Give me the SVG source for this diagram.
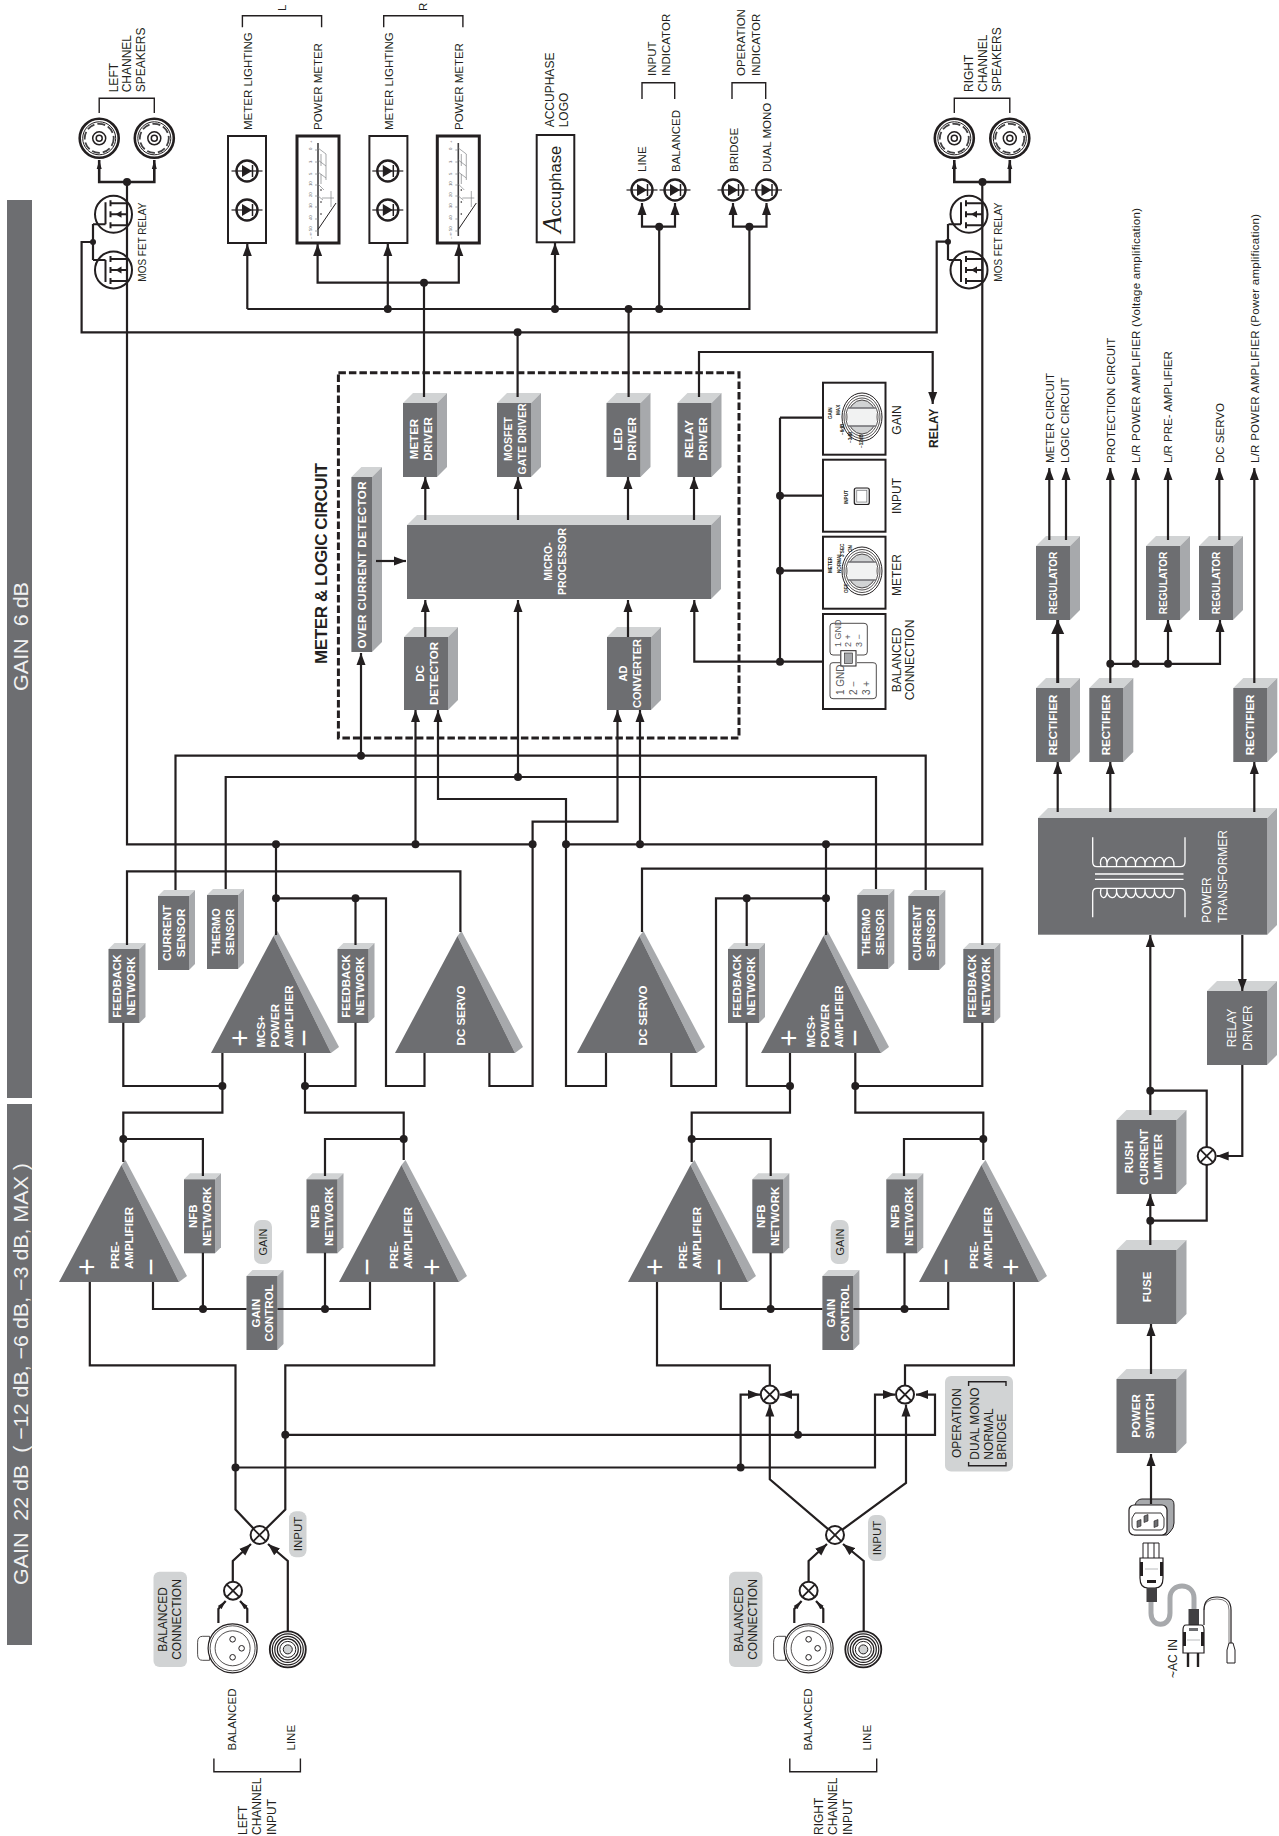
<svg xmlns="http://www.w3.org/2000/svg" xmlns:xlink="http://www.w3.org/1999/xlink" width="1279" height="1836" viewBox="0 0 1279 1836">
<style>
text{font-family:"Liberation Sans",Arial,sans-serif;fill:#231f20;font-size:11.5px}
.w{fill:#fff;font-weight:bold;text-anchor:middle}
.ws{fill:#fff;font-weight:bold}
.m{text-anchor:middle}
.big{fill:#f1f2f2;font-size:21px}
.pm{fill:#fff;font-size:30px;font-weight:normal;text-anchor:middle}
.ti{font-size:4.6px;font-weight:bold;stroke:none}
.ts{font-size:9px;fill:#58595b}
.tp{font-size:4.2px;fill:#58595b}
.d{fill:#6d6e71}.t{fill:#d1d3d4}.s{fill:#a7a9ac}
.c{fill:none;stroke:#231f20;stroke-width:2.2}
.cb{fill:none;stroke:#231f20;stroke-width:2.6}
.a{marker-end:url(#ar)}
.as{marker-end:url(#as)}
.al{marker-end:url(#al)}
.br{fill:none;stroke:#231f20;stroke-width:1.4}
.dot{fill:#231f20}
.pill{fill:#d1d3d4}
.panel{fill:#fff;stroke:#231f20;stroke-width:2}
.x{fill:#fff;stroke:#231f20;stroke-width:2}
.th{fill:none;stroke:#231f20;stroke-width:.8}
.wl{fill:none;stroke:#fff;stroke-width:1.3}
</style>
<defs>
<marker id="ar" markerUnits="userSpaceOnUse" markerWidth="13" markerHeight="10" refX="12" refY="5" orient="auto"><path d="M0 .5L12 5L0 9.5Z" fill="#231f20"/></marker>
<marker id="as" markerUnits="userSpaceOnUse" markerWidth="10" markerHeight="7" refX="9" refY="3.5" orient="auto"><path d="M0 1L9 3.5L0 6Z" fill="#231f20"/></marker>
<marker id="al" markerUnits="userSpaceOnUse" markerWidth="15" markerHeight="14" refX="14" refY="7" orient="auto"><path d="M0 .5L14 7L0 13.5Z" fill="#231f20"/></marker>
<g id="b34"><path class="t" d="M0 0L10-10H44L34 0Z"/><path class="s" d="M34 0L44-10V64L34 74Z"/><rect class="d" width="34" height="74"/></g>
<g id="b44"><path class="t" d="M0 0L10-10H54L44 0Z"/><path class="s" d="M44 0L54-10V63L44 73Z"/><rect class="d" width="44" height="73"/></g>
<g id="b31"><path class="t" d="M0 0L6-6H37L31 0Z"/><path class="s" d="M31 0L37-6V68L31 74Z"/><rect class="d" width="31" height="74"/></g>
<g id="b60"><path class="t" d="M0 0L10-10H70L60 0Z"/><path class="s" d="M60 0L70-10V64L60 74Z"/><rect class="d" width="60" height="74"/></g>
<g id="tri"><path class="s" d="M62.5-117L66.5-122L128-6L120 0Z"/><path class="d" d="M0 0H120L62.5-117Z"/></g>
<g id="spk"><circle r="19.5" fill="#fff" stroke="#231f20" stroke-width="2.6"/><circle r="16.5" fill="none" stroke="#231f20" stroke-width="1"/><circle r="14.5" fill="none" stroke="#414042" stroke-width="1.8" stroke-dasharray="8 3"/><circle r="6.5" fill="none" stroke="#231f20" stroke-width="1.5"/><circle r="3" fill="none" stroke="#231f20" stroke-width="1.5"/></g>
<g id="led"><circle r="10.5" fill="#fff" stroke="#231f20" stroke-width="2.4"/><path d="M-15.5 0H15.5" stroke="#231f20" stroke-width="1.2"/><path d="M-5-6L5 0L-5 6Z" fill="#231f20"/><path d="M5.5-6V6" stroke="#231f20" stroke-width="1.5"/></g>
<g id="fet"><circle r="18.5" fill="#fff" stroke="#231f20" stroke-width="2"/><path d="M-20.5 10H-8M-8-12V10" fill="none" stroke="#231f20" stroke-width="2"/><path d="M-3-14V-8M-3-3V3M-3 8V14M-3-11H13.5M-3 11H13.5M-3 0H13.5M13.5-11V11" fill="none" stroke="#231f20" stroke-width="2"/><path d="M2 0L8-3.5V3.5Z" fill="#231f20"/></g>
<g id="xc"><circle r="9" class="x"/><path d="M-6.4-6.4L6.4 6.4M-6.4 6.4L6.4-6.4" stroke="#231f20" stroke-width="1.8"/></g>
<g id="xlr"><path d="M-23-12H-30Q-35-12-35 -6V6Q-35 12-30 12H-23Z" fill="#fff" stroke="#231f20" stroke-width=".8"/><circle r="24.5" fill="#fff" stroke="#231f20" stroke-width="1.2"/><circle r="22.5" fill="none" stroke="#231f20" stroke-width=".8"/><circle r="17.5" fill="none" stroke="#231f20" stroke-width=".8"/><circle cy="-9" r="2.8" fill="#fff" stroke="#231f20"/><circle cx="9" r="2.8" fill="#fff" stroke="#231f20"/><circle cy="9" r="2.8" fill="#fff" stroke="#231f20"/></g>
<g id="rca"><circle r="18" fill="#fff" stroke="#231f20" stroke-width="1.8"/><circle r="15.500" fill="none" stroke="#231f20" stroke-width="1.2"/><circle r="13" fill="none" stroke="#231f20" stroke-width="1.2"/><circle r="10.500" fill="none" stroke="#231f20" stroke-width="1.2"/><circle r="8" fill="none" stroke="#231f20" stroke-width="1"/><circle r="4.5" fill="#d1d3d4" stroke="#231f20"/></g>
<g id="meter"><rect x="-21" y="-54" width="42" height="107" class="panel" style="stroke-width:3"/><path d="M0-47V46" stroke="#414042" stroke-width="1.6"/><path d="M0 39.500L18 13" stroke="#231f20" stroke-width="1"/><path d="M-3-40H0M-3-28H0M-3-16H0M-3-5H0M-3 6H0M-3 17H0M-3 29H0M-3 41H0M0-42L8-36M0-30L8-24M0-18L8-12M0-6L6 0M0 6L5 10M3-36V-24M3-16V-6M8-36V-10M13 1V17M16 8H4" fill="none" stroke="#808285" stroke-width=".7"/><circle cx="3" cy="0" r=".8" fill="#231f20"/><circle cx="3" cy="12" r=".8" fill="#231f20"/><circle cx="3" cy="24" r=".8" fill="#231f20"/><text class="tp" transform="matrix(0 -1 1 0 -6 49)">– ∞</text><text class="tp" transform="matrix(0 -1 1 0 -6 41)">50</text><text class="tp" transform="matrix(0 -1 1 0 -6 30)">40</text><text class="tp" transform="matrix(0 -1 1 0 -6 18)">30</text><text class="tp" transform="matrix(0 -1 1 0 -6 7)">20</text><text class="tp" transform="matrix(0 -1 1 0 -6 -4)">10</text><text class="tp" transform="matrix(0 -1 1 0 -6 -15)">5</text><text class="tp" transform="matrix(0 -1 1 0 -6 -27)">3</text><text class="tp" transform="matrix(0 -1 1 0 -6 -40)">0</text><text class="tp" transform="matrix(0 -1 1 0 -6 -47)">+</text></g>
<g id="knob"><ellipse rx="20" ry="24" fill="#fff" stroke="#231f20"/><ellipse rx="18" ry="21.500" class="th"/><ellipse rx="16" ry="19" class="th"/><ellipse rx="14" ry="17" fill="#d1d3d4" stroke="#231f20" stroke-width=".8"/><rect x="-14" y="-9" width="28" height="18" fill="#f1f2f2"/><path d="M-14-9H14M-14 9H14" stroke="#6d6e71" stroke-width="1.5"/></g>
</defs>

<g id="gain-bars">
<rect class="d" x="7" y="200" width="25" height="898"/>
<rect class="d" x="7" y="1104" width="25" height="541"/>
<text class="big" transform="matrix(0 -1 1 0 27.700 691)" textLength="109" lengthAdjust="spacingAndGlyphs" xml:space="preserve">GAIN  6 dB</text>
<text class="big" transform="matrix(0 -1 1 0 27.700 1585)" textLength="422" lengthAdjust="spacingAndGlyphs" xml:space="preserve">GAIN  22 dB  ( −12 dB, −6 dB, −3 dB, MAX )</text>
</g>

<g id="meter-logic-frame">
<rect x="338.400" y="372.700" width="400.600" height="365.300" fill="none" stroke="#231f20" stroke-width="3" stroke-dasharray="7.500 3"/>
<text transform="matrix(0 -1 1 0 326.500 664)" style="font-size:17px;font-weight:bold" textLength="201">METER &amp; LOGIC CIRCUIT</text>
</g>

<g id="left-speakers">
<use xlink:href="#spk" href="#spk" x="99.200" y="138.300"/><use href="#spk" xlink:href="#spk" x="154.300" y="138.300"/>
<path class="br" d="M99.200 113V98.300H154.300V113"/>
<text transform="matrix(0 -1 1 0 117.500 92.300)" style="font-size:12px"><tspan x="0">LEFT</tspan><tspan x="0" dy="13.900">CHANNEL</tspan><tspan x="0" dy="13.900">SPEAKERS</tspan></text>
</g>
<g id="right-speakers">
<use href="#spk" xlink:href="#spk" x="954.300" y="138.300"/><use href="#spk" xlink:href="#spk" x="1009.800" y="138.300"/>
<path class="br" d="M954.300 113V98.300H1009.800V113"/>
<text transform="matrix(0 -1 1 0 973 92)" style="font-size:12px"><tspan x="0">RIGHT</tspan><tspan x="0" dy="13.900">CHANNEL</tspan><tspan x="0" dy="13.900">SPEAKERS</tspan></text>
</g>
<g id="left-mosfet">
<use href="#fet" xlink:href="#fet" x="113.500" y="214.300"/><use href="#fet" xlink:href="#fet" transform="translate(113.500 270) scale(1 -1)"/>
<text transform="matrix(0 -1 1 0 146 281.700)" style="font-size:10px">MOS FET RELAY</text>
</g>
<g id="right-mosfet">
<use href="#fet" xlink:href="#fet" x="969" y="214.300"/><use href="#fet" xlink:href="#fet" transform="translate(969 270) scale(1 -1)"/>
<text transform="matrix(0 -1 1 0 1002 281.700)" style="font-size:10px">MOS FET RELAY</text>
</g>

<g id="meter-lighting-l"><rect class="panel" x="228" y="136" width="38" height="107"/><use href="#led" xlink:href="#led" x="247" y="171"/><use href="#led" xlink:href="#led" x="247" y="210"/></g>
<g id="power-meter-l"><use href="#meter" xlink:href="#meter" x="318" y="190"/></g>
<g id="meter-lighting-r"><rect class="panel" x="369.400" y="136" width="38" height="107"/><use href="#led" xlink:href="#led" x="387.800" y="171"/><use href="#led" xlink:href="#led" x="387.800" y="210"/></g>
<g id="power-meter-r"><use href="#meter" xlink:href="#meter" x="458.300" y="190"/></g>
<g id="meter-labels">
<path class="br" d="M242.400 27.300V15.700H321.600V27.300"/>
<path class="br" d="M383.700 27.300V15.700H462.900V27.300"/>
<text transform="matrix(0 -1 1 0 285.700 11)">L</text>
<text transform="matrix(0 -1 1 0 426.500 11)">R</text>
<text transform="matrix(0 -1 1 0 252.200 130)">METER LIGHTING</text>
<text transform="matrix(0 -1 1 0 322.400 130)">POWER METER</text>
<text transform="matrix(0 -1 1 0 392.600 130)">METER LIGHTING</text>
<text transform="matrix(0 -1 1 0 463.300 130)">POWER METER</text>
</g>
<g id="accuphase-logo">
<rect class="panel" x="536.700" y="135" width="37.600" height="107.300"/>
<text transform="matrix(0 -1 1 0 561 233)" style="font-size:16.500px"><tspan style="font-family:'Liberation Serif',serif;font-style:italic;font-size:27px">A</tspan><tspan>ccuphase</tspan></text>
<text transform="matrix(0 -1 1 0 553.900 127.300)" style="font-size:12px"><tspan x="0">ACCUPHASE</tspan><tspan x="0" dy="14">LOGO</tspan></text>
</g>
<g id="indicators">
<use href="#led" xlink:href="#led" x="642" y="190"/><use href="#led" xlink:href="#led" x="675" y="190"/><use href="#led" xlink:href="#led" x="733" y="190"/><use href="#led" xlink:href="#led" x="766.500" y="190"/>
<text transform="matrix(0 -1 1 0 646 172)">LINE</text>
<text transform="matrix(0 -1 1 0 679.600 172)">BALANCED</text>
<text transform="matrix(0 -1 1 0 738 172)">BRIDGE</text>
<text transform="matrix(0 -1 1 0 770.600 172)">DUAL MONO</text>
<path class="br" d="M642 99V82.700H674.700V99"/>
<path class="br" d="M732 99V82.700H765.700V99"/>
<text transform="matrix(0 -1 1 0 655.500 76)"><tspan x="0">INPUT</tspan><tspan x="0" dy="14">INDICATOR</tspan></text>
<text transform="matrix(0 -1 1 0 745.300 76)"><tspan x="0">OPERATION</tspan><tspan x="0" dy="14.500">INDICATOR</tspan></text>
</g>

<g id="meter-driver" transform="translate(403 403)"><use href="#b34" xlink:href="#b34"/><text class="w" transform="matrix(0 -1 1 0 15.400 36)"><tspan x="0">METER</tspan><tspan x="0" dy="14">DRIVER</tspan></text></g>
<g id="mosfet-gate-driver" transform="translate(497 403)"><use href="#b34" xlink:href="#b34"/><text class="w" transform="matrix(0 -1 1 0 15 36)" style="font-size:10.500px"><tspan x="0">MOSFET</tspan><tspan x="0" dy="14">GATE DRIVER</tspan></text></g>
<g id="led-driver" transform="translate(606.500 403)"><use href="#b34" xlink:href="#b34"/><text class="w" transform="matrix(0 -1 1 0 15.400 36)"><tspan x="0">LED</tspan><tspan x="0" dy="14">DRIVER</tspan></text></g>
<g id="relay-driver" transform="translate(677.500 403)"><use href="#b34" xlink:href="#b34"/><text class="w" transform="matrix(0 -1 1 0 15.400 36)"><tspan x="0">RELAY</tspan><tspan x="0" dy="14">DRIVER</tspan></text></g>
<g id="over-current-detector"><path class="t" d="M351.400 477L361.400 467H382L372 477Z"/><path class="s" d="M372 477L382 467V642L372 652Z"/><rect class="d" x="351.400" y="477" width="20.600" height="175"/><text class="w" transform="matrix(0 -1 1 0 366 565)" textLength="167">OVER CURRENT DETECTOR</text></g>
<g id="microprocessor"><path class="t" d="M407 525L417 515H721L711 525Z"/><path class="s" d="M711 525L721 515V589L711 599Z"/><rect class="d" x="407" y="525" width="304" height="74"/><text class="w" transform="matrix(0 -1 1 0 552 561.500)" style="font-size:10.500px"><tspan x="0">MICRO-</tspan><tspan x="0" dy="13.500">PROCESSOR</tspan></text></g>
<g id="dc-detector" transform="translate(404 637)"><use href="#b44" xlink:href="#b44"/><text class="w" transform="matrix(0 -1 1 0 19.500 36.500)"><tspan x="0">DC</tspan><tspan x="0" dy="14">DETECTOR</tspan></text></g>
<g id="ad-converter" transform="translate(607 637)"><use href="#b44" xlink:href="#b44"/><text class="w" transform="matrix(0 -1 1 0 19.500 36.500)" style="font-size:11px"><tspan x="0">AD</tspan><tspan x="0" dy="14">CONVERTER</tspan></text></g>

<g id="panel-gain"><rect class="panel" x="823" y="382.700" width="62.500" height="72"/><use href="#knob" xlink:href="#knob" x="862" y="417"/><text class="ti" transform="matrix(0 -1 1 0 832 419)">GAIN</text><text class="ti" transform="matrix(0 -1 1 0 840 415)">MAX</text><text class="ti" transform="matrix(0 -1 1 0 844 435)">−6dB</text><text class="ti" transform="matrix(0 -1 1 0 852 443)">−3dB</text><text class="ti" transform="matrix(0 -1 1 0 863 448)">−12dB</text><text class="m" transform="matrix(0 -1 1 0 900.800 420)" style="font-size:12px">GAIN</text></g>
<g id="panel-input"><rect class="panel" x="823" y="459.700" width="62.500" height="72"/><rect x="854.300" y="488" width="15" height="16.500" rx="2" fill="#e6e7e8" stroke="#231f20" stroke-width="1.2"/><rect x="856.800" y="490.500" width="10" height="11.500" fill="#fff" stroke="#6d6e71" stroke-width=".6"/><text class="ti" transform="matrix(0 -1 1 0 848 504)">INPUT</text><text class="m" transform="matrix(0 -1 1 0 900.800 496)" style="font-size:12px">INPUT</text></g>
<g id="panel-meter"><rect class="panel" x="823" y="536.700" width="62.500" height="72"/><use href="#knob" xlink:href="#knob" x="862" y="571"/><text class="ti" transform="matrix(0 -1 1 0 832 573)">METER</text><text class="ti" transform="matrix(0 -1 1 0 841 573)">NORMAL</text><text class="ti" transform="matrix(0 -1 1 0 844 557)">3 SEC</text><text class="ti" transform="matrix(0 -1 1 0 847.500 593)">OFF</text><text class="ti" transform="matrix(0 -1 1 0 852 552)">ON</text><text class="m" transform="matrix(0 -1 1 0 900.800 575)" style="font-size:12px">METER</text></g>
<g id="panel-balanced"><rect class="panel" x="823" y="614" width="62.500" height="95"/>
<path class="th" d="M840 655H833Q830 655 830 652V626Q830 623.300 833 623.300H864Q867.300 623.300 867.300 626V652Q867.300 655 864 655H857"/>
<path class="th" d="M840 662.700H833Q830 662.700 830 665V696Q830 698.700 833 698.700H873Q876.300 698.700 876.300 696V665Q876.300 662.700 873 662.700H857"/>
<rect x="840.800" y="650.700" width="15.200" height="15.300" fill="#fff" stroke="#231f20"/><rect x="844.500" y="653" width="8" height="10.500" fill="#a7a9ac" stroke="#231f20" stroke-width=".6"/>
<text class="ts" transform="matrix(0 -1 1 0 841 647)"><tspan x="0">1 GND</tspan></text><text class="ts" transform="matrix(0 -1 1 0 851 647)">2  +</text><text class="ts" transform="matrix(0 -1 1 0 862 647)">3  −</text>
<text class="ts" style="font-size:10px" transform="matrix(0 -1 1 0 844 695)">1 GND</text><text class="ts" style="font-size:10px" transform="matrix(0 -1 1 0 857 695)">2  −</text><text class="ts" style="font-size:10px" transform="matrix(0 -1 1 0 870 695)">3  +</text>
<text class="m" transform="matrix(0 -1 1 0 900.800 660)" style="font-size:12px"><tspan x="0">BALANCED</tspan><tspan x="0" dy="13.500">CONNECTION</tspan></text></g>
<g id="relay-label"><text transform="matrix(0 -1 1 0 938 448)" style="font-size:12px;font-weight:bold">RELAY</text></g>

<g id="fb1" transform="translate(108.500 949)"><use href="#b31" xlink:href="#b31"/><text class="w" transform="matrix(0 -1 1 0 12.500 37)" style="font-size:11.400px"><tspan x="0">FEEDBACK</tspan><tspan x="0" dy="14">NETWORK</tspan></text></g>
<g id="cs1" transform="translate(158 896)"><use href="#b31" xlink:href="#b31"/><text class="w" transform="matrix(0 -1 1 0 12.500 37)"><tspan x="0">CURRENT</tspan><tspan x="0" dy="14">SENSOR</tspan></text></g>
<g id="ts1" transform="translate(207 895)"><use href="#b31" xlink:href="#b31"/><text class="w" transform="matrix(0 -1 1 0 12.500 37)" style="font-size:11px"><tspan x="0">THERMO</tspan><tspan x="0" dy="14">SENSOR</tspan></text></g>
<g id="fb2" transform="translate(337.500 949)"><use href="#b31" xlink:href="#b31"/><text class="w" transform="matrix(0 -1 1 0 12.500 37)" style="font-size:11.400px"><tspan x="0">FEEDBACK</tspan><tspan x="0" dy="14">NETWORK</tspan></text></g>
<g id="fb3" transform="translate(728 949)"><use href="#b31" xlink:href="#b31"/><text class="w" transform="matrix(0 -1 1 0 12.500 37)" style="font-size:11.400px"><tspan x="0">FEEDBACK</tspan><tspan x="0" dy="14">NETWORK</tspan></text></g>
<g id="ts2" transform="translate(857.300 895)"><use href="#b31" xlink:href="#b31"/><text class="w" transform="matrix(0 -1 1 0 12.500 37)" style="font-size:11px"><tspan x="0">THERMO</tspan><tspan x="0" dy="14">SENSOR</tspan></text></g>
<g id="cs2" transform="translate(908.300 896)"><use href="#b31" xlink:href="#b31"/><text class="w" transform="matrix(0 -1 1 0 12.500 37)"><tspan x="0">CURRENT</tspan><tspan x="0" dy="14">SENSOR</tspan></text></g>
<g id="fb4" transform="translate(963.300 949)"><use href="#b31" xlink:href="#b31"/><text class="w" transform="matrix(0 -1 1 0 12.500 37)" style="font-size:11.400px"><tspan x="0">FEEDBACK</tspan><tspan x="0" dy="14">NETWORK</tspan></text></g>

<g id="mcs-l" transform="translate(211 1053)"><use href="#tri" xlink:href="#tri"/><text class="ws" transform="matrix(0 -1 1 0 54 -5.500)"><tspan x="0">MCS+</tspan><tspan x="0" dy="14">POWER</tspan><tspan x="0" dy="13.500">AMPLIFIER</tspan></text><text class="pm" transform="matrix(0 -1 1 0 39 -15)">+</text><text class="pm" transform="matrix(0 -1 1 0 103 -15)">−</text></g>
<g id="dc-servo-l" transform="translate(395 1053)"><use href="#tri" xlink:href="#tri"/><text class="w" transform="matrix(0 -1 1 0 70.300 -37.500)">DC SERVO</text></g>
<g id="dc-servo-r" transform="translate(577 1053)"><use href="#tri" xlink:href="#tri"/><text class="w" transform="matrix(0 -1 1 0 69.500 -37.500)">DC SERVO</text></g>
<g id="mcs-r" transform="translate(761 1053)"><use href="#tri" xlink:href="#tri"/><text class="ws" transform="matrix(0 -1 1 0 54 -5.500)"><tspan x="0">MCS+</tspan><tspan x="0" dy="14">POWER</tspan><tspan x="0" dy="13.500">AMPLIFIER</tspan></text><text class="pm" transform="matrix(0 -1 1 0 38 -15)">+</text><text class="pm" transform="matrix(0 -1 1 0 103.500 -15)">−</text></g>
<g id="pre-1" transform="translate(59 1282)"><use href="#tri" xlink:href="#tri"/><text class="ws" transform="matrix(0 -1 1 0 60 -13)"><tspan x="0">PRE-</tspan><tspan x="0" dy="13.600">AMPLIFIER</tspan></text><text class="pm" transform="matrix(0 -1 1 0 38 -15)">+</text><text class="pm" transform="matrix(0 -1 1 0 102 -15)">−</text></g>
<g id="pre-2" transform="translate(339 1282)"><use href="#tri" xlink:href="#tri"/><text class="ws" transform="matrix(0 -1 1 0 59 -13)"><tspan x="0">PRE-</tspan><tspan x="0" dy="13.600">AMPLIFIER</tspan></text><text class="pm" transform="matrix(0 -1 1 0 38 -15)">−</text><text class="pm" transform="matrix(0 -1 1 0 103 -15)">+</text></g>
<g id="pre-3" transform="translate(628 1282)"><use href="#tri" xlink:href="#tri"/><text class="ws" transform="matrix(0 -1 1 0 59 -13)"><tspan x="0">PRE-</tspan><tspan x="0" dy="13.600">AMPLIFIER</tspan></text><text class="pm" transform="matrix(0 -1 1 0 37 -15)">+</text><text class="pm" transform="matrix(0 -1 1 0 101 -15)">−</text></g>
<g id="pre-4" transform="translate(919 1282)"><use href="#tri" xlink:href="#tri"/><text class="ws" transform="matrix(0 -1 1 0 59 -13)"><tspan x="0">PRE-</tspan><tspan x="0" dy="13.600">AMPLIFIER</tspan></text><text class="pm" transform="matrix(0 -1 1 0 37 -15)">−</text><text class="pm" transform="matrix(0 -1 1 0 102 -15)">+</text></g>

<g id="nfb1" transform="translate(184 1179.300)"><use href="#b31" xlink:href="#b31"/><text class="w" transform="matrix(0 -1 1 0 12.500 37)"><tspan x="0">NFB</tspan><tspan x="0" dy="14">NETWORK</tspan></text></g>
<g id="nfb2" transform="translate(306.500 1179.300)"><use href="#b31" xlink:href="#b31"/><text class="w" transform="matrix(0 -1 1 0 12.500 37)"><tspan x="0">NFB</tspan><tspan x="0" dy="14">NETWORK</tspan></text></g>
<g id="nfb3" transform="translate(752.300 1179.300)"><use href="#b31" xlink:href="#b31"/><text class="w" transform="matrix(0 -1 1 0 12.500 37)"><tspan x="0">NFB</tspan><tspan x="0" dy="14">NETWORK</tspan></text></g>
<g id="nfb4" transform="translate(886.300 1179.300)"><use href="#b31" xlink:href="#b31"/><text class="w" transform="matrix(0 -1 1 0 12.500 37)"><tspan x="0">NFB</tspan><tspan x="0" dy="14">NETWORK</tspan></text></g>
<g id="gain-control-l" transform="translate(246.500 1276)"><use href="#b31" xlink:href="#b31"/><text class="w" transform="matrix(0 -1 1 0 13 37)"><tspan x="0">GAIN</tspan><tspan x="0" dy="13.500">CONTROL</tspan></text></g>
<g id="gain-control-r" transform="translate(822.400 1276)"><use href="#b31" xlink:href="#b31"/><text class="w" transform="matrix(0 -1 1 0 13 37)"><tspan x="0">GAIN</tspan><tspan x="0" dy="13.500">CONTROL</tspan></text></g>
<g id="gain-pill-l"><rect class="pill" x="254" y="1220" width="18" height="44" rx="7"/><text class="m" transform="matrix(0 -1 1 0 267 1242)" style="font-size:11px">GAIN</text></g>
<g id="gain-pill-r"><rect class="pill" x="830.700" y="1220" width="18" height="44" rx="7"/><text class="m" transform="matrix(0 -1 1 0 843.700 1242)" style="font-size:11px">GAIN</text></g>

<g id="operation-pill"><rect class="pill" x="945" y="1376" width="68" height="95.500" rx="6"/>
<path class="br" d="M968.600 1462V1465.800H1006V1462M968.600 1386V1381.800H1006V1386"/>
<text transform="matrix(0 -1 1 0 961 1458)" style="font-size:12px">OPERATION</text>
<text transform="matrix(0 -1 1 0 978.800 1459.700)" style="font-size:12px"><tspan x="0">DUAL MONO</tspan><tspan x="0" dy="13.800">NORMAL</tspan><tspan x="0" dy="13.800">BRIDGE</tspan></text></g>
<g id="input-pill-l"><rect class="pill" x="289" y="1511.300" width="17.500" height="46" rx="7"/><text class="m" transform="matrix(0 -1 1 0 302 1534)" style="font-size:11.500px">INPUT</text></g>
<g id="input-pill-r"><rect class="pill" x="868" y="1515" width="18" height="46" rx="7"/><text class="m" transform="matrix(0 -1 1 0 881 1538)" style="font-size:11.500px">INPUT</text></g>
<g id="bal-pill-l"><rect class="pill" x="153.500" y="1571.800" width="33.500" height="95.200" rx="6"/><text class="m" transform="matrix(0 -1 1 0 167 1619.500)" style="font-size:12px"><tspan x="0">BALANCED</tspan><tspan x="0" dy="13.800">CONNECTION</tspan></text></g>
<g id="bal-pill-r"><rect class="pill" x="729" y="1571.800" width="33.500" height="95.200" rx="6"/><text class="m" transform="matrix(0 -1 1 0 743 1619.500)" style="font-size:12px"><tspan x="0">BALANCED</tspan><tspan x="0" dy="13.800">CONNECTION</tspan></text></g>

<g id="input-l">
<use href="#xlr" xlink:href="#xlr" x="232.600" y="1648.300"/><use href="#rca" xlink:href="#rca" x="287.800" y="1649.400"/>
<text transform="matrix(0 -1 1 0 236 1750.500)">BALANCED</text><text transform="matrix(0 -1 1 0 294.700 1750.500)">LINE</text>
<path class="br" d="M213.900 1758.600V1771.800H300.400V1758.600"/>
<text transform="matrix(0 -1 1 0 247.300 1835)" style="font-size:12px"><tspan x="0">LEFT</tspan><tspan x="0" dy="14">CHANNEL</tspan><tspan x="0" dy="14.500">INPUT</tspan></text>
</g>
<g id="input-r">
<use href="#xlr" xlink:href="#xlr" x="808.600" y="1648.300"/><use href="#rca" xlink:href="#rca" x="863.300" y="1649.400"/>
<text transform="matrix(0 -1 1 0 811.800 1750.500)">BALANCED</text><text transform="matrix(0 -1 1 0 870.600 1750.500)">LINE</text>
<path class="br" d="M789.800 1758.600V1771.800H876.700V1758.600"/>
<text transform="matrix(0 -1 1 0 823 1835)" style="font-size:12px"><tspan x="0">RIGHT</tspan><tspan x="0" dy="14">CHANNEL</tspan><tspan x="0" dy="14.500">INPUT</tspan></text>
</g>

<g id="rectifier-1" transform="translate(1036 688)"><use href="#b34" xlink:href="#b34"/><text class="w" transform="matrix(0 -1 1 0 21 37)">RECTIFIER</text></g>
<g id="rectifier-2" transform="translate(1089.300 688)"><use href="#b34" xlink:href="#b34"/><text class="w" transform="matrix(0 -1 1 0 21 37)">RECTIFIER</text></g>
<g id="rectifier-3" transform="translate(1233.300 688)"><use href="#b34" xlink:href="#b34"/><text class="w" transform="matrix(0 -1 1 0 21 37)">RECTIFIER</text></g>
<g id="regulator-1" transform="translate(1036 546)"><use href="#b34" xlink:href="#b34"/><text class="w" transform="matrix(0 -1 1 0 21 37)" style="font-size:10px">REGULATOR</text></g>
<g id="regulator-2" transform="translate(1146 546)"><use href="#b34" xlink:href="#b34"/><text class="w" transform="matrix(0 -1 1 0 21 37)" style="font-size:10px">REGULATOR</text></g>
<g id="regulator-3" transform="translate(1199 546)"><use href="#b34" xlink:href="#b34"/><text class="w" transform="matrix(0 -1 1 0 21 37)" style="font-size:10px">REGULATOR</text></g>
<g id="supply-labels">
<text transform="matrix(0 -1 1 0 1054.300 463)"><tspan x="0">METER CIRCUIT</tspan><tspan x="0" dy="15">LOGIC CIRCUIT</tspan></text>
<text transform="matrix(0 -1 1 0 1115 463)">PROTECTION CIRCUIT</text>
<text transform="matrix(0 -1 1 0 1140 463)" textLength="255">L/R POWER AMPLIFIER (Voltage amplification)</text>
<text transform="matrix(0 -1 1 0 1171.700 463)">L/R PRE- AMPLIFIER</text>
<text transform="matrix(0 -1 1 0 1224 463)">DC SERVO</text>
<text transform="matrix(0 -1 1 0 1259 463)" textLength="249">L/R POWER AMPLIFIER (Power amplification)</text>
</g>
<g id="power-transformer"><path class="t" d="M1038 818L1048 808H1277L1267.300 818Z"/><path class="s" d="M1267.300 818L1277 808V925L1267.300 934.700Z"/><rect class="d" x="1038" y="818" width="229.300" height="116.700"/>
<path class="wl" d="M1092.700 837.300V862Q1092.700 866.700 1097 866.700H1180.500Q1185 866.700 1185 862V837.300"/>
<path class="wl" d="M1092.700 917.300V893Q1092.700 888.300 1097 888.300H1180.500Q1185 888.300 1185 893V917.300"/>
<path class="wl" d="M1095 874H1183.500M1095 879.300H1183.500"/>
<path class="wl" d="M1101 866C1098 856 1108 853 1107 866C1106 856 1118 853 1116.500 866C1115.500 856 1127 853 1126 866C1125 856 1136.500 853 1135.500 866C1134.500 856 1146 853 1145 866C1144 856 1155.500 853 1154.500 866C1153.500 856 1165 853 1164 866C1163 856 1174.500 853 1174 866"/>
<path class="wl" d="M1101 889C1098 899 1108 902 1107 889C1106 899 1118 902 1116.500 889C1115.500 899 1127 902 1126 889C1125 899 1136.500 902 1135.500 889C1134.500 899 1146 902 1145 889C1144 899 1155.500 902 1154.500 889C1153.500 899 1165 902 1164 889C1163 899 1174.500 902 1174 889"/>
<text transform="matrix(0 -1 1 0 1210.700 922.700)" style="fill:#fff;font-size:12px"><tspan x="0">POWER</tspan><tspan x="0" dy="16">TRANSFORMER</tspan></text></g>
<g id="relay-driver-p" transform="translate(1207 991)"><use href="#b60" xlink:href="#b60"/><text class="w" transform="matrix(0 -1 1 0 29 37)" style="font-weight:normal;font-size:12px"><tspan x="0">RELAY</tspan><tspan x="0" dy="16">DRIVER</tspan></text></g>
<g id="rush-limiter" transform="translate(1116.500 1120)"><use href="#b60" xlink:href="#b60"/><text class="w" transform="matrix(0 -1 1 0 16.500 37)" style="font-size:11.500px"><tspan x="0">RUSH</tspan><tspan x="0" dy="14.500">CURRENT</tspan><tspan x="0" dy="14.500">LIMITER</tspan></text></g>
<g id="fuse" transform="translate(1116.500 1250)"><use href="#b60" xlink:href="#b60"/><text class="w" transform="matrix(0 -1 1 0 34 37)">FUSE</text></g>
<g id="power-switch" transform="translate(1116.500 1379)"><use href="#b60" xlink:href="#b60"/><text class="w" transform="matrix(0 -1 1 0 23 37)"><tspan x="0">POWER</tspan><tspan x="0" dy="14">SWITCH</tspan></text></g>

<g id="ac-in">
<path d="M1135 1505Q1137 1499 1142 1499H1169Q1174 1499 1174 1505V1523Q1174 1528 1170 1532L1167 1535H1134Z" fill="#a7a9ac" stroke="#231f20" stroke-width="1"/>
<rect x="1129" y="1505" width="38" height="30" rx="5" fill="#fff" stroke="#231f20" stroke-width="1.200"/>
<path d="M1135 1513H1161L1164 1518V1525Q1164 1530 1160 1530H1136Q1132 1530 1132 1525V1518Z" fill="#fff" stroke="#231f20" stroke-width=".9"/>
<path d="M1137 1521L1141 1519.500V1526L1137 1527.500ZM1144 1516L1148 1514.500V1521L1144 1522.500ZM1154 1521L1158 1519.500V1526L1154 1527.500Z" fill="#6d6e71" stroke="#231f20" stroke-width=".6"/>
<path d="M1151 1602V1613C1151 1628 1170 1628 1170 1613V1598C1170 1582 1194 1582 1194 1598V1610" fill="none" stroke="#a7a9ac" stroke-width="5"/>
<path d="M1143 1558V1543H1159V1558M1148 1543V1558M1154 1543V1558" fill="none" stroke="#231f20" stroke-width="1"/>
<path d="M1140 1558H1163V1578Q1163 1588 1155 1588H1148Q1140 1588 1140 1578Z" fill="#fff" stroke="#231f20" stroke-width="1.200"/>
<rect x="1140" y="1562" width="3" height="14" fill="#231f20"/><rect x="1160" y="1562" width="3" height="14" fill="#231f20"/><rect x="1147" y="1580" width="9" height="3" fill="#231f20"/>
<path d="M1145 1569H1158" stroke="#a7a9ac" stroke-width=".8"/>
<rect x="1146.500" y="1588" width="10.500" height="14" fill="#414042"/>
<rect x="1188.500" y="1609" width="10.500" height="16" fill="#414042"/>
<path d="M1204 1625V1610Q1204 1597 1217 1597Q1231 1597 1231 1610V1643" fill="none" stroke="#231f20" stroke-width="1.200"/>
<path d="M1204 1610Q1204 1599 1217 1599Q1229 1599 1229 1610V1643" fill="none" stroke="#231f20" stroke-width=".6"/>
<path d="M1229 1643H1233L1235 1650V1663H1227V1650Z" fill="#fff" stroke="#231f20"/>
<path d="M1186 1625H1201Q1204 1625 1204 1630V1653H1183V1630Q1183 1625 1186 1625Z" fill="#fff" stroke="#231f20" stroke-width="1.200"/>
<rect x="1183" y="1632" width="3" height="14" fill="#231f20"/><rect x="1201" y="1632" width="3" height="14" fill="#231f20"/><rect x="1189" y="1628" width="9" height="3" fill="#6d6e71"/>
<path d="M1187 1640H1200" stroke="#a7a9ac" stroke-width=".8"/>
<path d="M1188 1653V1667M1198 1653V1667" stroke="#231f20" stroke-width="2.400"/>
<text transform="matrix(0 -1 1 0 1177 1678)" style="font-size:12px">~AC IN</text>
</g>

<g id="connectors">
<path class="cb as" d="M127 182H99.200V160"/><path class="cb as" d="M127 182H154.300V160"/>
<path class="cb as" d="M982.500 182H954.300V160"/><path class="cb as" d="M982.500 182H1009.800V160"/>
<path class="c" d="M127 182V844.300H532.600"/><path class="c" d="M566 844.300H982.300V182"/>
<path class="c a" d="M532.600 844.300V821.700H617.500V710"/><path class="c" d="M532.600 844.300V1086H489.400V1053"/>
<path class="c a" d="M566 844.300V799H438V710"/><path class="c" d="M566 844.300V1086H606V1053"/>
<path class="c a" d="M415.500 844.300V710"/><path class="c a" d="M640 844.300V710"/>
<path class="c" d="M276 844.300V935M276 898.300H386V1086H424.500V1053M355.500 898.300V945"/>
<path class="c" d="M826 844.300V935M826 898.300H716V1086H671.300V1053M746.700 898.300V946"/>
<path class="c" d="M175.500 890V755.700H925.700V890M225.700 889V777H876V889"/>
<path class="c a" d="M361 755.700V653"/><path class="c a" d="M518 777V600"/>
<path class="c" d="M127 945V871.300H460.400V932M642 932V868.700H982.300V945"/>
<path class="c" d="M123.300 1022.700V1086H222.400M222.400 1053V1112.700H123.300V1162M305 1053V1112.700H403.700V1160M305 1086H355.500V1022.700M123.300 1139H202.900V1176M403.700 1139H325V1176"/>
<path class="c" d="M746.700 1022.500V1086H790M790 1053V1112.700H691.700V1162M855.300 1053V1112.700H983.300V1160M855.300 1086H982.300V1022.500M691.700 1139H770.700V1176M983.300 1139H904V1176"/>
<path class="c" d="M202.900 1252.700V1309M325 1252.700V1309M153 1282V1309H246.500M277.500 1309H370V1282M770.600 1252.700V1309M904.500 1252.700V1309M720.800 1282V1309H822.400M853.500 1309H948.200V1282"/>
<path class="c" d="M89.800 1282V1365.400H235.500V1509.500L259.600 1535M434.300 1282V1365.400H285.300V1509.500L259.600 1535"/>
<path class="c a" d="M285.300 1434.800H935V1394.600H916"/><path class="c a" d="M235.500 1467.500H875V1394.600H895"/>
<path class="c a" d="M740.600 1467.500V1394.600H760"/><path class="c a" d="M798 1434.800V1394.600H780"/>
<path class="c" d="M657 1282V1365.400H769.800V1385M1013.900 1282V1365.400H905V1385"/>
<path class="c a" d="M835 1535L769.800 1479.300V1404.500"/><path class="c a" d="M835 1535L906 1483V1404.500"/>
<path class="c a" d="M232.800 1581V1561L251 1544"/><path class="c a" d="M287.800 1631.600V1561L268 1544"/>
<path class="c as" d="M218.400 1623V1609L225.700 1601"/><path class="c as" d="M247.300 1623V1609L240 1601"/>
<path class="c a" d="M808.600 1581V1561L827 1544"/><path class="c a" d="M863.700 1631.600V1561L843 1544"/>
<path class="c as" d="M794.300 1623V1609L801.600 1601"/><path class="c as" d="M823.300 1623V1609L816 1601"/>
<path class="c" d="M93 224V260M93 242H81.600V332.300H936.700V241.700H948M948 224V260"/>
<path class="c" d="M247.300 309H749.400V226.700"/>
<path class="c a" d="M247.300 309V244"/><path class="c a" d="M387.800 309V244"/><path class="c a" d="M555 309V243"/>
<path class="c" d="M628.600 309V397M659.200 309V226.700"/>
<path class="c a" d="M659.200 226.700H642V203"/><path class="c a" d="M659.200 226.700H675V203"/><path class="c a" d="M749.400 226.700H733V203"/><path class="c a" d="M749.400 226.700H766.500V203"/>
<path class="c" d="M424 397V282.700"/><path class="c a" d="M424 282.700H317.600V244"/><path class="c a" d="M424 282.700H458.800V244"/>
<path class="c" d="M517.600 397V332.300"/>
<path class="c a" d="M699 397V352H932.700V404"/>
<path class="c a" d="M425.300 520V477"/><path class="c a" d="M518 520V477"/><path class="c a" d="M628 520V477"/><path class="c a" d="M694 520V477"/>
<path class="c a" d="M425.300 637V600"/><path class="c a" d="M628 637V600"/><path class="c a" d="M376 561H406"/>
<path class="c" d="M780 417.700V661.700M823 417.700H780M780 495.700H823M780 570.700H823"/>
<path class="c a" d="M823 661.700H694.300V600"/>
<path class="c a" d="M1057.700 812V762"/><path class="c a" d="M1110.300 812V762"/><path class="c a" d="M1254.300 812V762"/>
<path class="cb al" style="stroke-width:3" d="M1057.700 683V620"/>
<path class="c a" d="M1110.300 683V468"/><path class="c a" d="M1110.300 663.800H1220V620"/><path class="c a" d="M1135.700 663.800V468"/><path class="c a" d="M1168 663.800V620"/>
<path class="c a" d="M1168 540V468"/><path class="c a" d="M1219.300 540V468"/><path class="c a" d="M1254.300 683V468"/><path class="c a" d="M1049.300 540V468"/><path class="c a" d="M1066 540V468"/>
<path class="c a" d="M1150.300 1115V935"/>
<path class="c" d="M1150.300 1090.700H1206.700V1220.700H1150.300"/>
<path class="c a" d="M1150.300 1245V1194"/>
<path class="c a" d="M1242.300 935V991"/><path class="c a" d="M1242.300 1065V1156H1216.700"/>
<path class="c a" d="M1151 1504V1454"/><path class="c a" d="M1151 1374V1324"/>
<g id="junctions" class="dot">
<circle cx="127" cy="182" r="4"/><circle cx="982.500" cy="182" r="4"/><circle cx="93" cy="242" r="3"/><circle cx="948" cy="241.700" r="3"/><circle cx="387.800" cy="309" r="4"/><circle cx="424" cy="282.700" r="4"/><circle cx="555" cy="309" r="4"/><circle cx="628.600" cy="309" r="4"/><circle cx="659.200" cy="309" r="4"/><circle cx="517.600" cy="332.300" r="4"/><circle cx="659.200" cy="226.700" r="4"/><circle cx="749.400" cy="226.700" r="4"/>
<circle cx="361" cy="755.700" r="4"/><circle cx="518" cy="777" r="4"/><circle cx="276" cy="844.300" r="4"/><circle cx="415.500" cy="844.300" r="4"/><circle cx="532.600" cy="844.300" r="4"/><circle cx="566" cy="844.300" r="4"/><circle cx="640" cy="844.300" r="4"/><circle cx="826" cy="844.300" r="4"/><circle cx="276" cy="898.300" r="4"/><circle cx="355.500" cy="898.300" r="4"/><circle cx="746.700" cy="898.300" r="4"/><circle cx="826" cy="898.300" r="4"/><circle cx="222.400" cy="1086" r="4"/><circle cx="305" cy="1086" r="4"/><circle cx="790" cy="1086" r="4"/><circle cx="855.300" cy="1086" r="4"/><circle cx="123.300" cy="1139" r="4"/><circle cx="403.700" cy="1139" r="4"/><circle cx="691.700" cy="1139" r="4"/><circle cx="983.300" cy="1139" r="4"/><circle cx="203" cy="1309" r="4"/><circle cx="325" cy="1309" r="4"/><circle cx="770.600" cy="1309" r="4"/><circle cx="904.500" cy="1309" r="4"/><circle cx="285.300" cy="1434.800" r="4"/><circle cx="235.500" cy="1467.500" r="4"/><circle cx="740.600" cy="1467.500" r="4"/><circle cx="798" cy="1434.800" r="4"/><circle cx="780" cy="495.700" r="4"/><circle cx="780" cy="570.700" r="4"/><circle cx="780" cy="661.700" r="4"/><circle cx="1110.300" cy="663.800" r="4"/><circle cx="1135.700" cy="663.800" r="4"/><circle cx="1168" cy="663.800" r="4"/><circle cx="1150.300" cy="1090.700" r="4"/><circle cx="1150.300" cy="1220.700" r="4"/>
</g>
</g>

<g id="switches">
<use href="#xc" xlink:href="#xc" x="259.600" y="1535"/><use href="#xc" xlink:href="#xc" x="233" y="1590.700"/>
<use href="#xc" xlink:href="#xc" x="835" y="1535"/><use href="#xc" xlink:href="#xc" x="808.600" y="1590.700"/>
<use href="#xc" xlink:href="#xc" x="769.800" y="1394.600"/><use href="#xc" xlink:href="#xc" x="905" y="1394.600"/>
<use href="#xc" xlink:href="#xc" x="1206.700" y="1156"/>
</g>
</svg>
